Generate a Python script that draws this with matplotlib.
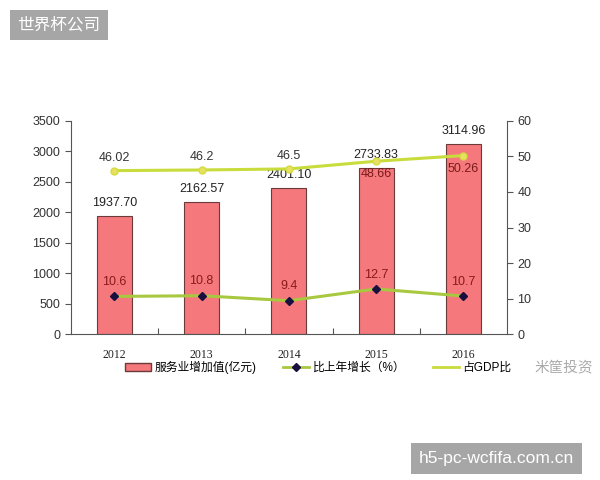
import matplotlib.pyplot as plt
from matplotlib.lines import Line2D
from matplotlib.patches import Patch

plt.rcParams['font.family'] = ['Liberation Sans', 'Noto Sans CJK SC', 'DejaVu Sans']

# 数据
years = ['2012', '2013', '2014', '2015', '2016']
valor_servicios = [1937.70, 2162.57, 2401.10, 2733.83, 3114.96]   # 服务业增加值(亿元)
crecimiento = [10.6, 10.8, 9.4, 12.7, 10.7]                     # 比上年增长(%)
proporcion_gdp = [46.02, 46.2, 46.5, 48.66, 50.26]               # 占GDP比重(%)
etiquetas_gdp = ['46.02', '46.2', '46.5', '48.66', '50.26']
etiquetas_crec = ['10.6', '10.8', '9.4', '12.7', '10.7']

fig = plt.figure(figsize=(6, 4.8), dpi=100)
ax = fig.add_axes([0.118, 0.304, 0.727, 0.444])
x = range(len(years))

# barras
ax.bar(x, valor_servicios, width=0.4, color='#f4787c', edgecolor='#6b3a3a', linewidth=0.8, zorder=2)
for i, v in enumerate(valor_servicios):
    ax.annotate('%.2f' % v, (i, v), xytext=(0, 5), textcoords='offset points',
                ha='center', va='bottom', fontsize=9, color='#222222')

ax.set_xlim(-0.5, 4.5)
ax.set_ylim(0, 3500)
ax.set_yticks(range(0, 3501, 500))
ax.set_xticks([k + 0.5 for k in range(4)])
ax.set_xticklabels([])
ax.tick_params(axis='x', direction='in', length=4, color='#555555')
ax.tick_params(axis='y', direction='out', length=4, labelsize=9, color='#555555', labelcolor='#333333')
for k, y in enumerate(years):
    ax.text(k, -0.07, y, transform=ax.get_xaxis_transform(), ha='center', va='top',
            fontsize=8.5, family='Liberation Serif', color='#222222')
ax.spines['top'].set_visible(False)
ax.spines['right'].set_visible(False)
for s in ['left', 'bottom']:
    ax.spines[s].set_color('#555555')

# eje derecho
ax2 = ax.twinx()
ax2.set_ylim(0, 60)
ax2.set_yticks(range(0, 61, 10))
ax2.tick_params(axis='y', direction='out', length=4, labelsize=9, color='#555555', labelcolor='#333333')
ax2.spines['top'].set_visible(False)
ax2.spines['left'].set_visible(False)
ax2.spines['bottom'].set_visible(False)
ax2.spines['right'].set_color('#555555')

ax2.plot(x, proporcion_gdp, color='#c8dc3c', linewidth=2.2, marker='o', markersize=5,
         markerfacecolor='#e8e060', markeredgecolor='#d4dc40', zorder=3)
ax2.plot(x, crecimiento, color='#a8c840', linewidth=2.2, marker='D', markersize=4.5,
         markerfacecolor='#1a1040', markeredgecolor='#1a1040', zorder=4)

for i, (v, t) in enumerate(zip(proporcion_gdp, etiquetas_gdp)):
    if i < 3:
        ax2.annotate(t, (i, v), xytext=(0, 5), textcoords='offset points',
                     ha='center', va='bottom', fontsize=9, color='#333333')
    else:
        ax2.annotate(t, (i, v), xytext=(0, -5), textcoords='offset points',
                     ha='center', va='top', fontsize=9, color='#7a1a1a')
for i, (v, t) in enumerate(zip(crecimiento, etiquetas_crec)):
    ax2.annotate(t, (i, v), xytext=(0, 6), textcoords='offset points',
                 ha='center', va='bottom', fontsize=9, color='#8b1a1a')

# leyenda
handles = [Patch(facecolor='#f4787c', edgecolor='#6b3a3a'),
           Line2D([], [], color='#a8c840', linewidth=2, marker='D', markersize=4,
                  markerfacecolor='#1a1040', markeredgecolor='#1a1040'),
           Line2D([], [], color='#c8dc3c', linewidth=2)]
labels = ['服务业增加值(亿元)', '比上年增长（%）', '占GDP比']
fig.legend(handles, labels, loc='center left', bbox_to_anchor=(0.19, 0.235), ncol=3, frameon=False,
           fontsize=8.5, handlelength=2.2, columnspacing=2.3, handletextpad=0.3)

fig.text(0.94, 0.235, '米筐投资', fontsize=10.5, color='#aaaaaa', ha='center', va='center')

# marcas de agua
fig.text(0.098, 0.948, '世界杯公司', fontsize=12, color='white', ha='center', va='center',
         bbox=dict(boxstyle='square,pad=0.45', facecolor='#a6a6a6', edgecolor='none'))
fig.text(0.828, 0.045, 'h5-pc-wcfifa.com.cn', fontsize=12.5, color='white', ha='center', va='center',
         bbox=dict(boxstyle='square,pad=0.45', facecolor='#a6a6a6', edgecolor='none'))

fig.savefig('out.png', dpi=100)
